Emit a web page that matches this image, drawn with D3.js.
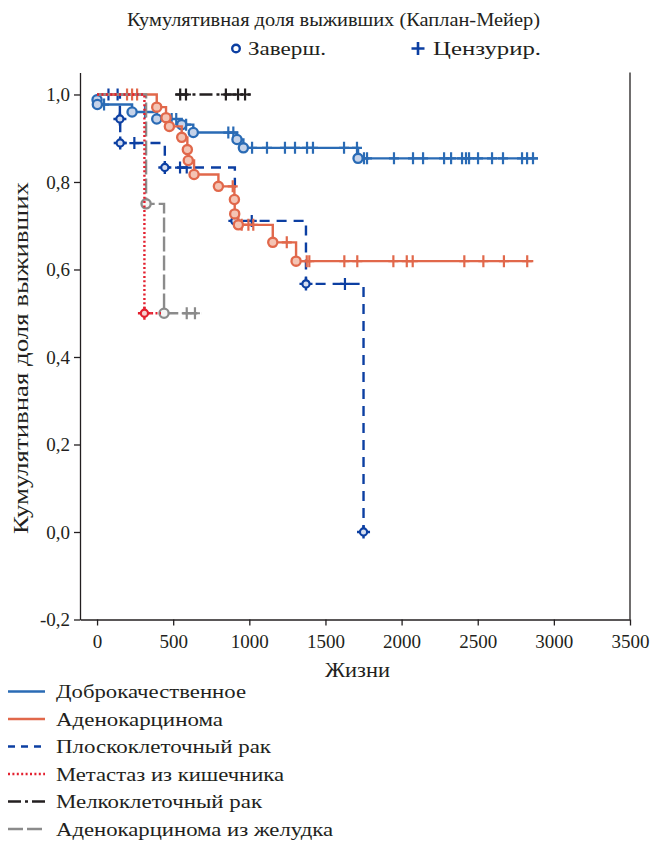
<!DOCTYPE html>
<html>
<head>
<meta charset="utf-8">
<script src="https://cdn.jsdelivr.net/npm/d3@7"></script>
<style>
  body { margin: 0; background: #fff; }
</style>
</head>
<body>
<div id="chart"></div>
<script>
// 1: DATA
const timeTicks = [0, 500, 1000, 1500, 2000, 2500, 3000, 3500];
const survTicks = [-0.2, 0, 0.2, 0.4, 0.6, 0.8, 1.0];

const seriesNames = ["Доброкачественное", "Аденокарцинома", "Плоскоклеточный рак",
                     "Метастаз из кишечника", "Мелкоклеточный рак", "Аденокарцинома из желудка"];

// events: [time, survival after the event]; censored: times
const benignEvents = [[0, 0.988], [2, 0.977], [230, 0.960], [392, 0.944], [556, 0.931],
                      [632, 0.913], [919, 0.897], [961, 0.878], [1714, 0.854]];
const benignCensored = [46, 315, 490, 520, 585, 862, 895, 1018, 1116, 1234, 1300, 1379, 1418,
                        1622, 1707, 1753, 1773, 1950, 2075, 2141, 2279, 2325, 2397, 2423, 2443,
                        2502, 2594, 2666, 2791, 2824, 2863];

const adenoEvents = [[392, 0.971], [453, 0.947], [475, 0.927], [556, 0.902], [593, 0.874],
                     [599, 0.849], [637, 0.817], [797, 0.790], [902, 0.760], [904, 0.727],
                     [928, 0.702], [1154, 0.662], [1307, 0.619]];
const adenoCensored = [197, 230, 263, 891, 950, 994, 1026, 1246, 1377, 1394, 1624, 1709,
                       1946, 2034, 2073, 2412, 2537, 2672, 2825];

const squamousEvents = [[150, 0.944], [152, 0.889], [445, 0.833], [905, 0.711], [1372, 0.567], [1750, 0.0]];
const squamousCensored = [75, 135, 245, 545, 589, 1016, 1628];

const metastasisEvents = [[311, 0.5]];
const metastasisCensored = [];

const smallcellEvents = [];
const smallcellCensored = [546, 584, 846, 926, 972];

const gastricEvents = [[322, 0.75], [440, 0.5]];
const gastricCensored = [589, 643];

// first and last follow-up time of every line
const seriesStart = [0, 0, 0, 0, 515, 0];
const seriesEnd = [2896, 2865, 1750, 420, 1010, 685];

// 2: STYLES
const colors = ["#2a6bb5", "#e1684b", "#0c3fa2", "#e3202f", "#231f20", "#8b8b8b"];
const fills = ["#c6d3e9", "#f4c4b4", "#d6def0", "#f6d0d0", "#ddd", "#f4f4f4"];
const dashes = [null, null, "10,7", "2,2.4", "13,4,3,4", "15,4"];
const markerType = ["circle", "circle", "diamond", "diamond", "circle", "circle"];
const legendTextWidth = [190, 167, 215, 228, 206, 277];
const FONT = '"Times New Roman", "Liberation Serif", "DejaVu Serif", serif';

const series = [
  { events: benignEvents, censored: benignCensored },
  { events: adenoEvents, censored: adenoCensored },
  { events: squamousEvents, censored: squamousCensored },
  { events: metastasisEvents, censored: metastasisCensored },
  { events: smallcellEvents, censored: smallcellCensored },
  { events: gastricEvents, censored: gastricCensored }
].map((s, i) => ({ ...s, name: seriesNames[i], start: seriesStart[i], end: seriesEnd[i], i }));

// 3: SVG + SCALES
const W = 653, H = 842;
const svg = d3.select("#chart").append("svg").attr("width", W).attr("height", H)
  .style("font-family", FONT);

const x = d3.scaleLinear().domain([-112, 3500]).range([80, 630]);
const y = d3.scaleLinear().domain([-0.2, 1.05]).range([619.5, 72.6]);

// 4: AXES
const xAxis = svg.append("g")
  .attr("transform", `translate(0,${y(-0.2)})`)
  .call(d3.axisBottom(x).tickValues(timeTicks).tickSize(6).tickSizeOuter(0).tickFormat(d3.format("d")));
const yAxis = svg.append("g")
  .attr("transform", `translate(${x(-112)},0)`)
  .call(d3.axisLeft(y).tickValues(survTicks).tickSize(6).tickSizeOuter(0)
    .tickFormat(d => d3.format(".1f")(d).replace(".", ",").replace("−", "-")));

[xAxis, yAxis].forEach(a => {
  a.attr("font-family", null).attr("font-size", null);
  a.selectAll("path, line").attr("stroke", "#231f20").attr("stroke-width", 1.3);
  a.selectAll("text").attr("fill", "#231f20").style("font-family", FONT).style("font-size", "19px");
});
xAxis.selectAll("text").attr("dy", "1.0em");
yAxis.selectAll("text").attr("dx", "-0.05em");

// right frame line
svg.append("line")
  .attr("x1", x(3500)).attr("x2", x(3500))
  .attr("y1", y(1.05)).attr("y2", y(-0.2))
  .attr("stroke", "#231f20").attr("stroke-width", 1.3);

// 5: CURVES
const line = d3.line().curve(d3.curveStepAfter).x(d => x(d[0])).y(d => y(d[1]));
const survAt = (s, t) => {
  let v = 1;
  s.events.forEach(e => { if (e[0] <= t) v = e[1]; });
  return v;
};

const drawOrder = [0, 2, 1, 5, 3, 4];
drawOrder.forEach(k => {
  const s = series[k];
  const pts = [[s.start, 1], ...s.events];
  const last = pts[pts.length - 1];
  if (s.end > last[0]) pts.push([s.end, last[1]]);
  const g = svg.append("g");

  g.append("path")
    .attr("d", line(pts))
    .attr("fill", "none")
    .attr("stroke", colors[k])
    .attr("stroke-width", 2.4)
    .attr("stroke-dasharray", dashes[k]);

  // censored marks
  g.selectAll(".cens").data(s.censored).enter().append("path")
    .attr("class", "cens")
    .attr("transform", t => `translate(${x(t)},${y(survAt(s, t))})`)
    .attr("d", "M0,-6V6M-5,0H5")
    .attr("stroke", colors[k]).attr("stroke-width", 2.2).attr("fill", "none");

  // event marks
  const ev = g.selectAll(".ev").data(s.events).enter().append("g")
    .attr("class", "ev")
    .attr("transform", e => `translate(${x(e[0])},${y(e[1])})`);
  if (markerType[k] === "diamond") {
    ev.append("path").attr("d", "M0,-6.5V6.5M-6.5,0H6.5")
      .attr("stroke", colors[k]).attr("stroke-width", 2.4);
    ev.append("circle").attr("r", 3.6)
      .attr("fill", fills[k]).attr("stroke", colors[k]).attr("stroke-width", 2.2);
  } else {
    ev.append("circle").attr("r", 4.6)
      .attr("fill", fills[k]).attr("stroke", colors[k]).attr("stroke-width", 2.3);
  }
});

// 6: LABELS
const txt = (sel, size, len) => {
  sel.style("font-family", FONT).style("font-size", size + "px").attr("fill", "#231f20");
  if (len) sel.attr("textLength", len).attr("lengthAdjust", "spacingAndGlyphs");
  return sel;
};

txt(svg.append("text").attr("x", 127).attr("y", 26), 18.5, 413)
  .text("Кумулятивная доля выживших (Каплан-Мейер)");

svg.append("circle").attr("cx", 236).attr("cy", 48.5).attr("r", 3.8)
  .attr("fill", "#fff").attr("stroke", "#0c3fa2").attr("stroke-width", 2.4);
txt(svg.append("text").attr("x", 248).attr("y", 55), 18.5, 78).text("Заверш.");
svg.append("path").attr("transform", "translate(418,48.5)").attr("d", "M0,-6.5V6.5M-6.5,0H6.5")
  .attr("stroke", "#0c3fa2").attr("stroke-width", 2.6);
txt(svg.append("text").attr("x", 433).attr("y", 55), 18.5, 108).text("Цензурир.");

txt(svg.append("text").attr("x", 325).attr("y", 677), 20, 65).text("Жизни");

txt(svg.append("text")
  .attr("transform", `translate(28,${358 + 176}) rotate(-90)`), 20.5, 352)
  .text("Кумулятивная доля выживших");

// bottom legend
const legRowY = [691.5, 719, 746.5, 774, 801.5, 829];
const leg = svg.selectAll(".leg").data(series).enter().append("g")
  .attr("class", "leg")
  .attr("transform", (d, i) => `translate(0,${legRowY[i]})`);
leg.append("line").attr("x1", 8).attr("x2", 45)
  .attr("stroke", (d, i) => colors[i]).attr("stroke-width", 2.4)
  .attr("stroke-dasharray", (d, i) => i === 2 ? "7,6" : dashes[i]);
leg.append("text").attr("x", 56).attr("y", 6.5)
  .style("font-family", FONT).style("font-size", "19.5px").attr("fill", "#231f20")
  .attr("textLength", (d, i) => legendTextWidth[i]).attr("lengthAdjust", "spacingAndGlyphs")
  .text(d => d.name);
</script>
</body>
</html>
